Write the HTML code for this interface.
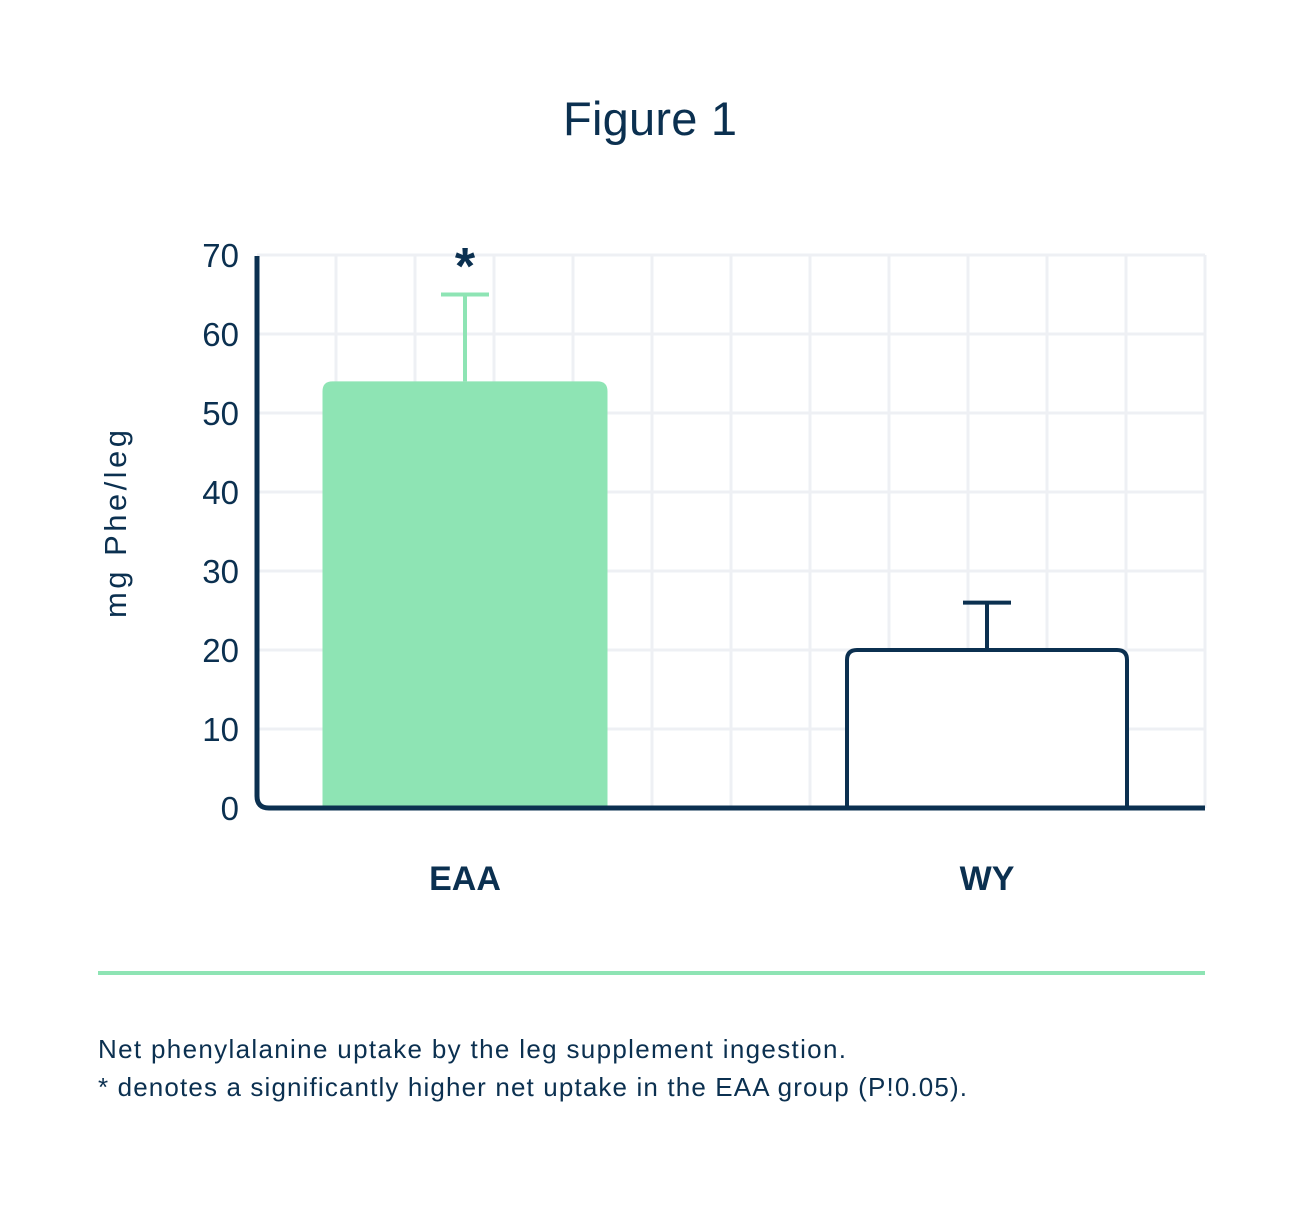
<!DOCTYPE html>
<html><head><meta charset="utf-8"><style>
body{margin:0;background:#fff;}
svg text{font-family:"Liberation Sans",sans-serif;fill:#0b3050;}
</style></head><body>
<svg width="1305" height="1201" viewBox="0 0 1305 1201" xmlns="http://www.w3.org/2000/svg">
<text x="650" y="135" font-size="47" text-anchor="middle" textLength="174">Figure 1</text>
<g id="grid"></g>
<g id="yticks"></g>
<text transform="translate(126,524) rotate(-90)" font-size="31" text-anchor="middle" textLength="188">mg Phe/leg</text>
<g id="bars"></g>
<path d="M257,256 V796 Q257,808 269,808 H1205" fill="none" stroke="#0b3050" stroke-width="5"/>
<g id="xlabels"></g>
<line x1="98" y1="973" x2="1205" y2="973" stroke="#8ee4b4" stroke-width="4"/>
<text x="98" y="1058" font-size="26" textLength="748">Net phenylalanine uptake by the leg supplement ingestion.</text>
<text x="98" y="1096" font-size="26" textLength="869">* denotes a significantly higher net uptake in the EAA group (P!0.05).</text>
</svg>
<script>
const categories=["EAA","WY"];
const values=[54,20];
const errors=[65,26];
const sig=[true,false];
const yTicks=[0,10,20,30,40,50,60,70];
const NS="http://www.w3.org/2000/svg";
const y=v=>808-v*7.9;
const centers=[465,987], halfW=[142.5,140];
function mk(t,a,p){const e=document.createElementNS(NS,t);for(const k in a)e.setAttribute(k,a[k]);p.appendChild(e);return e;}
const grid=document.getElementById('grid');
for(let i=1;i<=12;i++){const l=mk('line',{x1:257+i*79,x2:257+i*79,y1:255,y2:808,stroke:'#eef0f4','stroke-width':3},grid);}
const yt=document.getElementById('yticks');
yTicks.forEach(v=>{if(v>0){const l=mk('line',{x1:257,x2:1205,y1:y(v),y2:y(v),stroke:'#eef0f4','stroke-width':3},grid);}
const t=mk('text',{x:239,y:y(v)+12,'font-size':33,'text-anchor':'end'},yt);t.textContent=v;});
const bars=document.getElementById('bars'), xl=document.getElementById('xlabels');
categories.forEach((c,i)=>{const cx=centers[i],hw=halfW[i],top=y(values[i]),r=10;
const filled=i===0;const col=filled?'#8ee4b4':'#0b3050';
const e1=mk('line',{x1:cx,x2:cx,y1:y(errors[i]),y2:top,stroke:col,'stroke-width':4},bars);
const e2=mk('line',{x1:cx-24,x2:cx+24,y1:y(errors[i]),y2:y(errors[i]),stroke:col,'stroke-width':4},bars);
const d=`M${cx-hw},808 V${top+r} Q${cx-hw},${top} ${cx-hw+r},${top} H${cx+hw-r} Q${cx+hw},${top} ${cx+hw},${top+r} V808`;
const b=mk('path',filled?{d:d+'Z',fill:col}:{d,fill:'#fff',stroke:col,'stroke-width':4},bars);
if(sig[i]){const s=mk('text',{x:cx,y:284,'font-size':52,'font-weight':'bold','text-anchor':'middle'},bars);s.textContent='*';}
const t=mk('text',{x:cx,y:890,'font-size':34,'font-weight':'bold','text-anchor':'middle'},xl);t.textContent=c;});
</script>
</body></html>
